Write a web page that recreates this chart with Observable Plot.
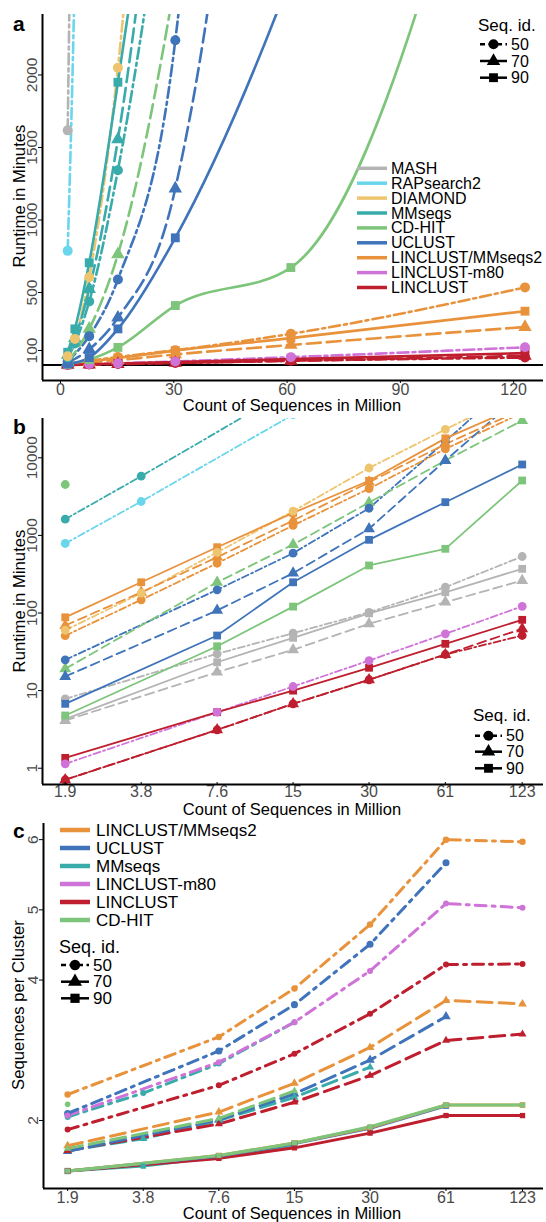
<!DOCTYPE html>
<html><head><meta charset="utf-8">
<script src="https://cdn.jsdelivr.net/npm/d3@7"></script>
<script src="https://cdn.jsdelivr.net/npm/@observablehq/plot@0.6"></script>
<style>
body{margin:0;background:#fff;}
#chart{width:546px;}
#chart svg{display:block;overflow:visible;}
</style></head><body><div id="chart"></div>
<script>
// ---------- categories ----------
const sizes = [1.9, 3.8, 7.6, 15.2, 30.4, 61, 123];          // million sequences
const sizeLabels = ["1.9","3.8","7.6","15","30","61","123"];
const seqIds = ["50","70","90"];
const methods = ["MASH","RAPsearch2","DIAMOND","MMseqs","CD-HIT","UCLUST","LINCLUST/MMseqs2","LINCLUST-m80","LINCLUST"];
const colorsA = ["#b4b4b4","#6ad6ec","#eec46e","#3aabab","#7dc57a","#3f74ba","#e9923c","#cf73d8","#be1e2d"];
const colorsB = ["#3aabab","#6ad6ec","#eec46e","#e9923c","#7dc57a","#3f74ba","#b4b4b4","#cf73d8","#be1e2d"];
const legendCMethods = ["LINCLUST/MMseqs2","UCLUST","MMseqs","LINCLUST-m80","LINCLUST","CD-HIT"];

// ---------- runtime in minutes (panels a, b) ----------
const rtMASH_50 = [1618, 5790, null, 79600, null, null, null];
const rtRAPsearch2_50 = [787, 2735, null, 36000, null, null, null];
const rtDIAMOND_50 = [60, 180, 605, 2050, 7390, 23200, 71600];
const rtMMseqs_50 = [51, 148, 438, 1343, 4000, 13000, 38000];
const rtMMseqs_70 = [69, 185, 524, 1556, 4850, 15000, 42000];
const rtMMseqs_90 = [88, 249, 705, 1950, 5060, 17800, 48000];
const rtCDHIT_50 = [4530, null, null, null, null, null, null];
const rtCDHIT_70 = [19.1, null, 249, 763, 2655, 9230, 30200];
const rtCDHIT_90 = [4.78, null, 37.3, 121, 410, 672, 5100];
const rtUCLUST_50 = [24.9, null, 199, 590, 2240, 16200, 126000];
const rtUCLUST_70 = [15.2, null, 108, 326, 1217, 9230, 66600];
const rtUCLUST_90 = [6.76, null, 51.3, 249, 877, 2680, 8200];
const rtLinMM_50 = [7.84, null, 29.8, 55, 102, 215, 535];
const rtLinMM_70 = [4.12, null, 17.3, 33.6, 72.6, 138, 262];
const rtLinMM_90 = [4.3, null, 23.2, 47.9, 99, 185, 371];
const rtLinm80_50 = [1.14, null, 5.27, 11.3, 24.4, 54, 122];
const rtLin_50 = [0.71, null, 3.12, 6.76, 13.8, 29.2, 51.3];
const rtLin_70 = [0.71, null, 3.12, 6.76, 13.8, 29.2, 62.6];
const rtLin_90 = [1.36, null, 5.27, 10, 19.7, 40.1, 81.7];

// ---------- sequences per cluster (panel c) ----------
const spcLinMM_50 = [2.37, null, 3.19, 3.88, 4.79, 6.0, 5.97];
const spcLinMM_70 = [1.64, null, 2.12, 2.53, 3.04, 3.71, 3.66];
const spcLinMM_90 = [1.28, null, 1.50, 1.68, 1.90, 2.22, 2.22];
const spcUCLUST_50 = [2.10, null, 2.99, 3.65, 4.51, 5.67, null];
const spcUCLUST_70 = [1.56, null, 2.01, 2.38, 2.86, 3.48, null];
const spcUCLUST_90 = [1.28, null, 1.49, 1.67, 1.89, 2.21, null];
const spcMMseqs_50 = [2.05, 2.39, 2.81, 3.40, null, null, null];
const spcMMseqs_70 = [1.57, 1.74, 2.00, 2.33, 2.76, null, null];
const spcMMseqs_90 = [1.28, 1.35, 1.48, 1.65, null, null, null];
const spcLinm80_50 = [2.07, null, 2.83, 3.40, 4.13, 5.09, 5.03];
const spcLin_50 = [1.87, null, 2.50, 2.95, 3.52, 4.22, 4.23];
const spcLin_70 = [1.57, null, 1.95, 2.26, 2.64, 3.14, 3.23];
const spcLin_90 = [1.28, null, 1.46, 1.61, 1.82, 2.07, 2.07];
const spcCDHIT_50 = [2.23, null, null, null, null, null, null];
const spcCDHIT_70 = [1.60, null, 2.03, 2.42, null, null, null];
const spcCDHIT_90 = [1.28, null, 1.50, 1.68, 1.91, 2.22, 2.22];

// ---------- axis ticks ----------
const ticksAx = [0, 30, 60, 90, 120];
const ticksAy = [100, 500, 1000, 1500, 2000];
const ticksBy = [1, 10, 100, 1000, 10000];
const ticksCy = [2, 4, 5, 6];

function tidy(series) {
  const out = [];
  for (const [method, id, vals] of series)
    vals.forEach((v, i) => { if (v != null) out.push({method, id, x: sizes[i], v}); });
  return out;
}
const runtime = tidy([
  ["LINCLUST/MMseqs2","50",rtLinMM_50],["LINCLUST/MMseqs2","70",rtLinMM_70],["LINCLUST/MMseqs2","90",rtLinMM_90],
  ["LINCLUST","50",rtLin_50],["LINCLUST","70",rtLin_70],["LINCLUST","90",rtLin_90],
  ["LINCLUST-m80","50",rtLinm80_50],
  ["CD-HIT","50",rtCDHIT_50],["CD-HIT","70",rtCDHIT_70],["CD-HIT","90",rtCDHIT_90],
  ["UCLUST","50",rtUCLUST_50],["UCLUST","70",rtUCLUST_70],["UCLUST","90",rtUCLUST_90],
  ["MASH","50",rtMASH_50],["RAPsearch2","50",rtRAPsearch2_50],
  ["MMseqs","50",rtMMseqs_50],["MMseqs","70",rtMMseqs_70],["MMseqs","90",rtMMseqs_90],
  ["DIAMOND","50",rtDIAMOND_50]
]);
const clusters = tidy([
  ["MMseqs","50",spcMMseqs_50],["MMseqs","70",spcMMseqs_70],["MMseqs","90",spcMMseqs_90],
  ["LINCLUST-m80","50",spcLinm80_50],
  ["LINCLUST","50",spcLin_50],["LINCLUST","70",spcLin_70],["LINCLUST","90",spcLin_90],
  ["UCLUST","50",spcUCLUST_50],["UCLUST","70",spcUCLUST_70],["UCLUST","90",spcUCLUST_90],
  ["LINCLUST/MMseqs2","50",spcLinMM_50],["LINCLUST/MMseqs2","70",spcLinMM_70],["LINCLUST/MMseqs2","90",spcLinMM_90],
  ["CD-HIT","50",spcCDHIT_50],["CD-HIT","70",spcCDHIT_70],["CD-HIT","90",spcCDHIT_90]
]);
const sizeC = {"UCLUST":6,"LINCLUST/MMseqs2":5,"CD-HIT":3.8};

const symOf = id => ({"50":"circle","70":"triangle","90":"square"})[id];
const FONT = "'Liberation Sans', Arial, sans-serif";
const baseStyle = {fontFamily: FONT, fontSize: "15px", background: "#fff", color: "#000", overflow: "visible"};
const tickFill = "#4a4a4a";

function yAxisRot(ticks) {
  return Plot.axisY(ticks, {text: d => String(d), tickRotate: -90, textAnchor: "middle", lineAnchor: "bottom",
    tickSize: 4, tickPadding: 2, fontSize: 15.5, fill: tickFill, stroke: "#000", label: null});
}
function xAxis(ticks, fmt, dy = 0) {
  return Plot.axisX(ticks, {text: fmt, tickSize: 3, tickPadding: 0, dy, fontSize: 16, fill: tickFill, stroke: "#000", label: null});
}
const fmtSize = d => sizeLabels[d3.minIndex(sizes, s => Math.abs(Math.log(s / +d)))];

// ---------- panel a ----------
const xDomA = [-4.77, 127.9], yDomA = [-107, 2417];
const dashA = {"50":"11,4,3,4","70":"14,6","90":null};
const chartA = Plot.plot({
  width: 546, height: 412, marginTop: 14, marginBottom: 32, marginLeft: 42, marginRight: 3,
  style: baseStyle,
  x: {type: "linear", domain: xDomA},
  y: {type: "linear", domain: yDomA},
  color: {domain: methods, range: colorsA},
  marks: [
    Plot.ruleY([0], {stroke: "#000", strokeWidth: 2}),
    ...seqIds.map(id => Plot.line(runtime.filter(d => d.id === id),
      {x: "x", y: "v", z: "method", stroke: "method", strokeWidth: 2.6, strokeDasharray: dashA[id], curve: "monotone-x", clip: true})),
    Plot.dot(runtime, {x: "x", y: "v", fill: "method", symbol: d => symOf(d.id), r: 5, clip: true}),
    xAxis(ticksAx, d => String(d)),
    yAxisRot(ticksAy),
    Plot.ruleX([xDomA[0]], {stroke: "#000", strokeWidth: 2}),
    Plot.ruleY([yDomA[0]], {stroke: "#000", strokeWidth: 2})
  ]
});

// ---------- panel b ----------
const xDomB = [1.544, 149.4], yDomB = [0.617, 32100];
const dashB = {"50":"7,3,2,3","70":"9,5","90":null};
const chartB = Plot.plot({
  width: 546, height: 403, marginTop: 6, marginBottom: 31, marginLeft: 42, marginRight: 3,
  style: baseStyle,
  x: {type: "log", domain: xDomB},
  y: {type: "log", domain: yDomB},
  color: {domain: methods, range: colorsB},
  marks: [
    ...seqIds.map(id => Plot.line(runtime.filter(d => d.id === id),
      {x: "x", y: "v", z: "method", stroke: "method", strokeWidth: 1.8, strokeDasharray: dashB[id], clip: true})),
    Plot.dot(runtime, {x: "x", y: "v", fill: "method", symbol: d => symOf(d.id), r: 4.4, clip: true}),
    xAxis(sizes, fmtSize, -2),
    yAxisRot(ticksBy),
    Plot.ruleX([xDomB[0]], {stroke: "#000", strokeWidth: 2}),
    Plot.ruleY([yDomB[0]], {stroke: "#000", strokeWidth: 2})
  ]
});

// ---------- panel c ----------
const xDomC = [1.523, 149.1], yDomC = [1.031, 6.23];
const dashC = {"50":"11,6,3,6","70":"15,7","90":null};
const chartC = Plot.plot({
  width: 546, height: 407, marginTop: 8, marginBottom: 34, marginLeft: 43, marginRight: 3,
  style: baseStyle,
  x: {type: "log", domain: xDomC},
  y: {type: "linear", domain: yDomC},
  color: {domain: methods, range: colorsA},
  marks: [
    ...seqIds.map(id => Plot.line(clusters.filter(d => d.id === id),
      {x: "x", y: "v", z: "method", stroke: "method", strokeWidth: 3, strokeDasharray: dashC[id], clip: true})),
    Plot.dot(clusters, {x: "x", y: "v", fill: "method", symbol: d => symOf(d.id), r: d => sizeC[d.method] ?? 4.3, clip: true}),
    xAxis(sizes, fmtSize),
    yAxisRot(ticksCy),
    Plot.ruleX([xDomC[0]], {stroke: "#000", strokeWidth: 2}),
    Plot.ruleY([yDomC[0]], {stroke: "#000", strokeWidth: 2})
  ]
});

const root = document.getElementById("chart");
root.append(chartA, chartB, chartC);

// ---------- decorations: titles, letters, legends ----------
function txt(svg, x, y, s, o = {}) {
  const t = svg.append("text").attr("x", x).attr("y", y).text(s)
    .attr("font-family", FONT).attr("font-size", o.size || 16).attr("fill", o.fill || "#000")
    .attr("text-anchor", o.anchor || "start");
  if (o.weight) t.attr("font-weight", o.weight);
  if (o.baseline) t.attr("dominant-baseline", o.baseline);
  if (o.rotate) t.attr("transform", `rotate(${o.rotate},${x},${y})`);
  return t;
}
function marker(svg, type, x, y, r, fill) {
  const T = {circle: d3.symbolCircle, triangle: d3.symbolTriangle, square: d3.symbolSquare}[type];
  svg.append("path").attr("d", d3.symbol(T, Math.PI * r * r)()).attr("transform", `translate(${x},${y})`).attr("fill", fill);
}
function seqLegend(svg, o) {
  txt(svg, o.x, o.titleY, "Seq. id.", {size: o.titleSize, baseline: "central"});
  seqIds.forEach((id, i) => {
    const y = o.rowY[i];
    svg.append("line").attr("x1", o.x + 2).attr("x2", o.x + 2 + o.len).attr("y1", y).attr("y2", y)
      .attr("stroke", "#000").attr("stroke-width", o.sw).attr("stroke-dasharray", id === "50" ? "5,3.5" : null);
    marker(svg, symOf(id), o.x + 2 + o.len / 2, y, o.r, "#000");
    txt(svg, o.x + o.len + 6, y, id, {size: o.textSize, baseline: "central"});
  });
}

// panel a
{
  const s = d3.select(chartA);
  txt(s, 13, 31, "a", {size: 21, weight: "bold"});
  txt(s, 24.5, 196, "Runtime in Minutes", {size: 16.7, anchor: "middle", rotate: -90});
  txt(s, 292, 411, "Count of Sequences in Million", {size: 16.5, anchor: "middle"});
  methods.forEach((m, i) => {
    const y = 168.3 + i * 14.9;
    s.append("line").attr("x1", 357).attr("x2", 387).attr("y1", y).attr("y2", y).attr("stroke", colorsA[i]).attr("stroke-width", 3.5);
    txt(s, 391, y, m, {size: 16, baseline: "central"});
  });
  seqLegend(s, {x: 478, titleY: 25, titleSize: 17, rowY: [44.3, 61, 77.7], len: 27, sw: 2.5, r: 5, textSize: 16});
}
// panel b
{
  const s = d3.select(chartB);
  txt(s, 13, 22, "b", {size: 21, weight: "bold"});
  txt(s, 24.5, 189, "Runtime in Minutes", {size: 16.7, anchor: "middle", rotate: -90});
  txt(s, 292, 403, "Count of Sequences in Million", {size: 16.5, anchor: "middle"});
  seqLegend(s, {x: 473, titleY: 303, titleSize: 17, rowY: [323.7, 339.7, 356.3], len: 27, sw: 2.5, r: 5, textSize: 16});
}
// panel c
{
  const s = d3.select(chartC);
  txt(s, 13, 23.3, "c", {size: 21, weight: "bold"});
  txt(s, 23.5, 190, "Sequences per Cluster", {size: 16.7, anchor: "middle", rotate: -90});
  txt(s, 292, 404, "Count of Sequences in Million", {size: 16.5, anchor: "middle"});
  legendCMethods.forEach((m, i) => {
    const y = 15 + i * 18;
    s.append("line").attr("x1", 60).attr("x2", 90).attr("y1", y).attr("y2", y).attr("stroke", colorsA[methods.indexOf(m)]).attr("stroke-width", 4.5);
    txt(s, 96, y, m, {size: 17, baseline: "central"});
  });
  seqLegend(s, {x: 59, titleY: 131.7, titleSize: 18, rowY: [150, 166.7, 183.3], len: 28, sw: 2.5, r: 5.2, textSize: 17});
}
</script>
</body></html>
